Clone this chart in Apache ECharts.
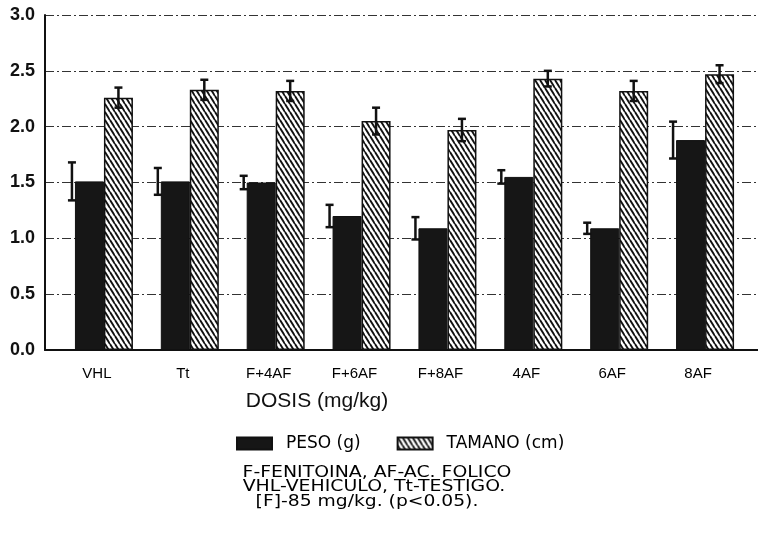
<!DOCTYPE html>
<html><head><meta charset="utf-8">
<script src="https://cdn.jsdelivr.net/npm/echarts@6/dist/echarts.min.js"></script>
<style>html,body{margin:0;padding:0;background:#fff}#c{width:758px;height:537px}</style>
</head><body><div id="c"></div>
<script>
const categories = ['VHL','Tt','F+4AF','F+6AF','F+8AF','4AF','6AF','8AF'];
const peso = [1.51,1.51,1.50,1.20,1.09,1.55,1.09,1.88];
const pesoErr = [0.17,0.12,0.06,0.10,0.10,0.06,0.05,0.165];
const tamano = [2.26,2.33,2.32,2.05,1.97,2.43,2.32,2.47];
const tamanoErr = [0.09,0.09,0.09,0.12,0.10,0.07,0.09,0.08];
const seriesNames = ['PESO (g)','TAMANO (cm)'];
const xTitle = 'DOSIS (mg/kg)';
const notes = ['F-FENITOINA, AF-AC. FOLICO','VHL-VEHICULO, Tt-TESTIGO.','[F]-85 mg/kg. (p<0.05).'];

function hatch(){
  const c=document.createElement('canvas');c.width=5;c.height=8;
  const g=c.getContext('2d');g.fillStyle='#fff';g.fillRect(0,0,5,8);
  g.strokeStyle='#111';g.lineWidth=1.9;
  for(const s of [-5,0,5]){g.beginPath();g.moveTo(s,0);g.lineTo(s+5,8);g.stroke();}
  return c;
}
const hatchPat={image:hatch(),repeat:'repeat'};
const BW=29;
function errSeries(vals,errs,offsetFn){
  return {type:'custom',xAxisIndex:1,yAxisIndex:1,z:5,silent:true,
    data:vals.map((v,i)=>[i,v,errs[i]]),
    renderItem:function(params,api){
      const i=api.value(0),v=api.value(1),e=api.value(2);
      const t=api.coord([i,v+e]),b=api.coord([i,v-e]);
      const x=offsetFn(t[0]);const cw=4;
      const st={stroke:'#111',lineWidth:2.5};
      return {type:'group',children:[
        {type:'line',shape:{x1:x,y1:t[1],x2:x,y2:b[1]},style:st},
        {type:'line',shape:{x1:x-cw,y1:t[1],x2:x+cw,y2:t[1]},style:st},
        {type:'line',shape:{x1:x-cw,y1:b[1],x2:x+cw,y2:b[1]},style:st}
      ]};
    }};
}
const noteFont='16px "DejaVu Sans", sans-serif';
const chart=echarts.init(document.getElementById('c'),null,{renderer:'canvas'});
chart.setOption({
  animation:false,
  backgroundColor:'#fff',
  grid:[
    {left:45,right:0,top:15,bottom:187},
    {left:61,right:10,top:15,bottom:187}
  ],
  xAxis:[
    {gridIndex:0,type:'value',min:0,max:1,axisLine:{show:true,onZero:false,lineStyle:{color:'#111',width:2}},axisTick:{show:false},axisLabel:{show:false},splitLine:{show:false}},
    {gridIndex:1,type:'category',data:categories,axisLine:{show:false},axisTick:{show:false},
      axisLabel:{margin:16,fontSize:15,color:'#000',padding:[0,14,0,0],fontFamily:'Liberation Sans, Arial, sans-serif'}}
  ],
  yAxis:[
    {gridIndex:0,type:'value',min:0,max:3,interval:0.5,
      axisLine:{show:true,lineStyle:{color:'#111',width:2}},axisTick:{show:false},
      axisLabel:{margin:10,fontSize:18,fontWeight:'bold',color:'#111',fontFamily:'Liberation Sans, Arial, sans-serif',formatter:v=>v.toFixed(1)},
      splitLine:{show:true,lineStyle:{color:'#333',width:1.2,type:[9,3,2,3]}}},
    {gridIndex:1,type:'value',min:0,max:3,show:false,splitLine:{show:false}}
  ],
  legend:{left:231,top:430,itemWidth:35,itemHeight:12,itemGap:36,icon:'rect',
    textStyle:{fontSize:17,color:'#000',fontFamily:'DejaVu Sans, sans-serif',padding:[0,0,0,9]},
    data:seriesNames},
  series:[
    {name:seriesNames[0],type:'bar',xAxisIndex:1,yAxisIndex:1,data:peso,barWidth:BW,barGap:'0%',
      itemStyle:{color:'#161616',borderColor:'#111',borderWidth:1}},
    {name:seriesNames[1],type:'bar',xAxisIndex:1,yAxisIndex:1,data:tamano,barWidth:BW,barGap:'0%',
      itemStyle:{color:hatchPat,borderColor:'#111',borderWidth:1.5}},
    errSeries(peso,pesoErr,x=>x-BW-3),
    errSeries(tamano,tamanoErr,x=>x+BW/2)
  ],
  graphic:[
    {type:'text',x:317,y:401,style:{text:xTitle,fill:'#111',font:'21px "Liberation Sans", Arial, sans-serif',textAlign:'center',textVerticalAlign:'middle'}},
    {type:'text',x:377,y:473,scaleX:1.18,style:{text:notes[0],fill:'#000',font:noteFont,textAlign:'center',textVerticalAlign:'middle'}},
    {type:'text',x:374,y:487,scaleX:1.18,style:{text:notes[1],fill:'#000',font:noteFont,textAlign:'center',textVerticalAlign:'middle'}},
    {type:'text',x:367,y:502,scaleX:1.17,style:{text:notes[2],fill:'#000',font:noteFont,textAlign:'center',textVerticalAlign:'middle'}}
  ]
});
</script></body></html>
